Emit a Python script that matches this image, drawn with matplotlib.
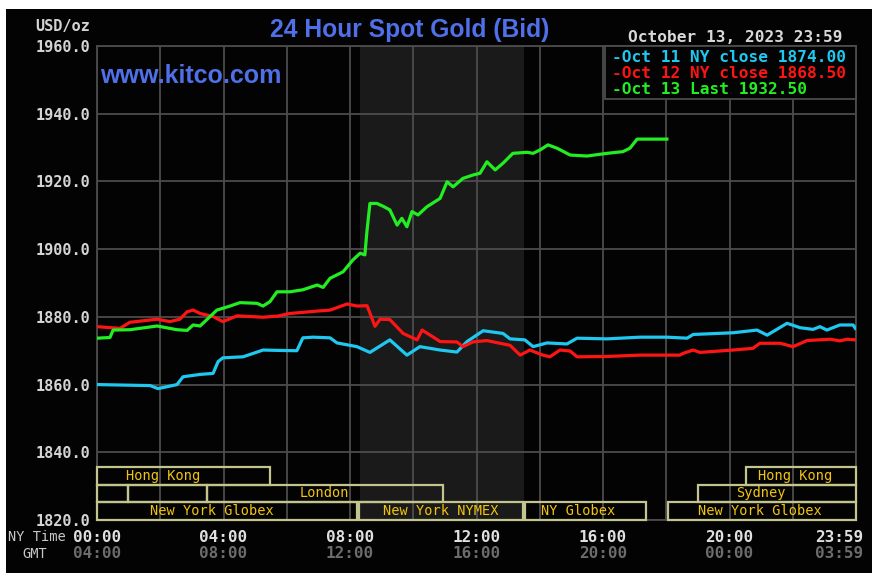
import matplotlib
matplotlib.use("Agg")
import matplotlib.pyplot as plt
from matplotlib.patches import Rectangle
import matplotlib.transforms as mtransforms

# ---------------- data ----------------
blue_hours = [0, 1.68, 1.93, 2.53, 2.72, 3.26, 3.67, 3.83, 3.98, 4.62, 5.25, 5.69, 6.32, 6.51, 6.83,
              7.37, 7.59, 8.22, 8.63, 9.26, 9.80, 10.21, 10.85, 11.38, 11.70, 12.21, 12.84, 13.06,
              13.53, 13.79, 14.23, 14.86, 15.18, 16.13, 17.17, 18.02, 18.66, 18.85, 20.11, 20.87,
              21.19, 21.82, 22.23, 22.64, 22.86, 23.08, 23.49, 23.91, 23.98]
blue_vals = [1860.0, 1859.7, 1858.8, 1860.0, 1862.3, 1863.0, 1863.3, 1866.8, 1867.9, 1868.2, 1870.2,
             1870.1, 1870.0, 1873.8, 1874.0, 1873.8, 1872.3, 1871.2, 1869.5, 1873.2, 1868.7, 1871.2,
             1870.2, 1869.6, 1872.7, 1875.9, 1875.1, 1873.5, 1873.2, 1871.2, 1872.3, 1872.0, 1873.7,
             1873.5, 1874.0, 1874.0, 1873.7, 1874.8, 1875.3, 1876.1, 1874.6, 1878.1, 1876.8, 1876.3,
             1877.1, 1876.1, 1877.6, 1877.6, 1876.6]

red_hours = [0, 0.73, 1.04, 1.90, 2.31, 2.62, 2.85, 3.04, 3.26, 3.67, 3.98, 4.43, 5.25, 5.69, 6.10,
             6.96, 7.37, 7.91, 8.22, 8.54, 8.79, 8.95, 9.26, 9.68, 10.12, 10.28, 10.62, 10.85, 11.38,
             11.57, 11.89, 12.33, 12.74, 13.06, 13.38, 13.69, 14.10, 14.32, 14.64, 14.96, 15.18,
             16.13, 17.17, 18.43, 18.53, 18.85, 19.07, 20.11, 20.74, 20.96, 21.60, 22.01, 22.45,
             23.19, 23.49, 23.72, 23.98]
red_vals = [1877.1, 1876.6, 1878.4, 1879.3, 1878.6, 1879.3, 1881.5, 1882.0, 1881.0, 1880.1, 1878.6,
            1880.3, 1879.9, 1880.2, 1881.0, 1881.7, 1882.0, 1883.8, 1883.2, 1883.3, 1877.2, 1879.3,
            1879.2, 1875.1, 1873.2, 1876.1, 1874.1, 1872.7, 1872.6, 1871.2, 1872.6, 1873.0, 1872.2,
            1871.6, 1868.7, 1870.2, 1868.7, 1868.2, 1870.2, 1869.9, 1868.2, 1868.3, 1868.7, 1868.7,
            1869.2, 1870.2, 1869.5, 1870.2, 1870.7, 1872.2, 1872.2, 1871.2, 1873.0, 1873.4, 1872.9,
            1873.4, 1873.2]

green_hours = [0, 0.41, 0.51, 1.04, 1.90, 2.53, 2.85, 3.04, 3.26, 3.79, 4.21, 4.52, 5.06, 5.25, 5.47,
               5.69, 6.10, 6.51, 6.96, 7.15, 7.37, 7.78, 8.09, 8.32, 8.47, 8.54, 8.63, 8.85, 9.04,
               9.26, 9.49, 9.64, 9.80, 9.96, 10.15, 10.43, 10.85, 11.07, 11.26, 11.57, 11.89, 12.11,
               12.33, 12.59, 12.84, 13.15, 13.60, 13.79, 14.01, 14.26, 14.55, 14.96, 15.49, 16.13,
               16.63, 16.85, 17.08, 18.02]
green_vals = [1873.7, 1873.9, 1876.1, 1876.2, 1877.3, 1876.2, 1876.0, 1877.6, 1877.3, 1882.0, 1883.2,
              1884.2, 1884.0, 1883.2, 1884.5, 1887.4, 1887.4, 1888.0, 1889.4, 1888.7, 1891.4, 1893.3,
              1896.8, 1898.8, 1898.3, 1905.7, 1913.5, 1913.5, 1912.7, 1911.6, 1907.1, 1909.1, 1906.6,
              1911.1, 1910.1, 1912.5, 1915.0, 1919.9, 1918.4, 1920.9, 1921.9, 1922.4, 1925.8, 1923.4,
              1925.4, 1928.3, 1928.6, 1928.3, 1929.3, 1930.8, 1929.8, 1927.8, 1927.5, 1928.3, 1928.8,
              1929.8, 1932.5, 1932.5]

legend_labels = ["-Oct 11 NY close 1874.00", "-Oct 12 NY close 1868.50", "-Oct 13 Last 1932.50"]
y_ticks = [1820, 1840, 1860, 1880, 1900, 1920, 1940, 1960]
x_ticks = [0, 4, 8, 12, 16, 20, 23.983]
ny_labels = ["00:00", "04:00", "08:00", "12:00", "16:00", "20:00", "23:59"]
gmt_labels = ["04:00", "08:00", "12:00", "16:00", "20:00", "00:00", "03:59"]

# session boxes: (row, start hour, end hour, label, label hour)
sessions = [
    (0, 0.0, 5.47, "Hong Kong", 2.10),
    (0, 20.52, 24.0, "Hong Kong", 22.07),
    (1, 0.0, 0.98, "", 0),
    (1, 0.98, 3.48, "", 0),
    (1, 3.48, 10.94, "London", 7.18),
    (1, 19.0, 24.0, "Sydney", 21.0),
    (2, 0.0, 8.22, "New York Globex", 3.64),
    (2, 8.27, 13.47, "New York NYMEX", 10.88),
    (2, 13.53, 17.36, "NY Globex", 15.21),
    (2, 18.05, 24.0, "New York Globex", 20.96),
]
row_bounds = [(1830.34, 1835.65), (1825.32, 1830.34), (1820.0, 1825.32)]

# ---------------- styles ----------------
C_BLUE = "#1ec8f0"
C_RED = "#ff1414"
C_GREEN = "#22ee22"
C_TITLE = "#4f70e8"
C_GRID = "#4c4c4c"
C_BOX = "#c4c48e"
C_BOXTXT = "#f2c410"
MONO = "DejaVu Sans Mono"

fig = plt.figure(figsize=(8.8, 5.81), dpi=100, facecolor="white")
fig.patches.append(Rectangle((6/880, 8/581), 866/880, 564/581, transform=fig.transFigure,
                             facecolor="#030303", edgecolor="none", zorder=-10))

ax = fig.add_axes([97/880, 61/581, 759/880, 474/581])
ax.set_facecolor("#030303")
ax.set_xlim(0, 24)
ax.set_ylim(1820, 1960)

# NYMEX shaded period
ax.axvspan(8.33, 13.5, color="#191a19", zorder=0.2, lw=0)

# grid
ax.set_xticks([h for h in range(0, 25, 2)])
ax.set_yticks(y_ticks)
ax.grid(True, color=C_GRID, lw=1.3)
ax.set_axisbelow(True)
ax.tick_params(length=0, labelbottom=False)
ax.set_yticklabels([f"{v:.1f}" for v in y_ticks], fontfamily=MONO, fontweight="bold",
                   fontsize=11, color="#d4d4d4")
ax.tick_params(axis="y", pad=5)
for s in ax.spines.values():
    s.set_color(C_GRID)
    s.set_linewidth(1.3)

# lines
ax.plot(blue_hours, blue_vals, color=C_BLUE, lw=2.3, zorder=4)
ax.plot(red_hours, red_vals, color=C_RED, lw=2.3, zorder=4)
ax.plot(green_hours, green_vals, color=C_GREEN, lw=2.3, zorder=5)

# session boxes
for row, h0, h1, lab, hl in sessions:
    y0, y1 = row_bounds[row]
    ax.add_patch(Rectangle((h0, y0), h1 - h0, y1 - y0, facecolor="none", edgecolor=C_BOX,
                           lw=1.6, zorder=3, clip_on=False))
    if lab:
        ax.text(hl, (y0 + y1) / 2, lab, color=C_BOXTXT, fontfamily=MONO, fontsize=9.8,
                ha="center", va="center", zorder=6)

# legend box
ax.add_patch(Rectangle((16.06, 1944.35), 24 - 16.06, 1960 - 1944.35, facecolor="#030303",
                       edgecolor=C_GRID, lw=1.3, zorder=6, clip_on=False))
leg_colors = [C_BLUE, C_RED, C_GREEN]
for i, (lab, c) in enumerate(zip(legend_labels, leg_colors)):
    fig.text(612/880, 1 - (57 + 16.5*i)/581, lab, color=c, fontfamily=MONO, fontweight="bold",
             fontsize=11.6, ha="left", va="center", zorder=10)

# x labels (two rows)
xt = ax.get_xaxis_transform()
for i, (h, a, b) in enumerate(zip(x_ticks, ny_labels, gmt_labels)):
    if i == len(x_ticks) - 1:
        tr = mtransforms.offset_copy(xt, fig=fig, x=8, y=0, units="dots")
        ha = "right"
    else:
        tr = xt
        ha = "center"
    ax.text(h, -17/474, a, transform=tr, ha=ha, va="center", fontfamily=MONO,
            fontweight="bold", fontsize=11.5, color="#e0e0e0")
    ax.text(h, -34/474, b, transform=tr, ha=ha, va="center", fontfamily=MONO,
            fontweight="bold", fontsize=11.5, color="#6c6c6c")

fig.text(8/880, 1 - 537/581, "NY Time", color="#c8c8c8", fontfamily=MONO, fontsize=9.8,
         ha="left", va="center")
fig.text(22/880, 1 - 554/581, "GMT", color="#c8c8c8", fontfamily=MONO, fontsize=9.8,
         ha="left", va="center")

# header texts
fig.text(90/880, 1 - 27/581, "USD/oz", color="#d4d4d4", fontfamily=MONO, fontweight="bold",
         fontsize=11, ha="right", va="center")
fig.text(409.5/880, 1 - 30/581, "24 Hour Spot Gold (Bid)", color=C_TITLE,
         fontfamily="Liberation Sans", fontweight="bold", fontsize=17.7, ha="center", va="center")
fig.text(842/880, 1 - 37/581, "October 13, 2023 23:59", color="#d8d8d8", fontfamily=MONO,
         fontweight="bold", fontsize=11.6, ha="right", va="center")
fig.text(100/880, 1 - 76/581, "www.kitco.com", color=C_TITLE, fontfamily="Liberation Sans",
         fontweight="bold", fontsize=18, ha="left", va="center", zorder=6)

fig.savefig("out.png", dpi=100, facecolor=fig.get_facecolor())
